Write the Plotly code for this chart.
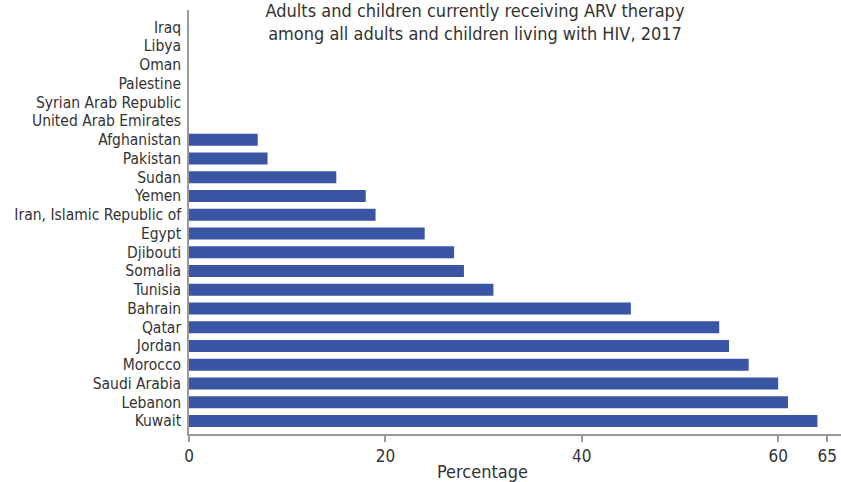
import plotly.graph_objects as go

countries = ["Iraq", "Libya", "Oman", "Palestine", "Syrian Arab Republic",
             "United Arab Emirates", "Afghanistan", "Pakistan", "Sudan", "Yemen",
             "Iran, Islamic Republic of", "Egypt", "Djibouti", "Somalia", "Tunisia",
             "Bahrain", "Qatar", "Jordan", "Morocco", "Saudi Arabia", "Lebanon", "Kuwait"]
values = [None, None, None, None, None, None, 7, 8, 15, 18, 19, 24, 27, 28, 31,
          45, 54, 55, 57, 60, 61, 64]
x_ticks = [0, 20, 40, 60, 65]

FONT = "DejaVu Sans Condensed, Roboto, sans-serif"
TXT = "#333333"

fig = go.Figure(go.Bar(
    x=values, y=countries, orientation="h",
    marker=dict(color="#3955A3", line=dict(width=0)),
    width=0.64,
))

fig.update_layout(
    width=841, height=482, autosize=False,
    margin=dict(l=189, r=0, t=10, b=48),
    plot_bgcolor="white", paper_bgcolor="white",
    showlegend=False,
    font=dict(family=FONT, color=TXT, size=16),
    title=dict(
        text="Adults and children currently receiving ARV therapy<br>among all adults and children living with HIV, 2017",
        x=475 / 841, xanchor="center", xref="container",
        y=1 - 17 / 482, yref="container", yanchor="middle",
        font=dict(family=FONT, size=18, color=TXT),
    ),
    xaxis=dict(
        range=[0, 66.4], tickmode="array", tickvals=x_ticks,
        ticktext=[str(t) for t in x_ticks],
        showgrid=False, zeroline=False, automargin=False,
        showline=True, linecolor="#999999", linewidth=1.5,
        ticks="outside", ticklen=6, tickcolor="#999999", tickwidth=1.5,
        tickfont=dict(family=FONT, size=17, color=TXT),
    ),
    yaxis=dict(
        categoryorder="array", categoryarray=countries,
        tickmode="array", tickvals=countries, ticktext=countries,
        range=[21.69, -0.92], automargin=False,
        showgrid=False, zeroline=False,
        showline=True, linecolor="#999999", linewidth=1.5,
        ticks="", ticklabelstandoff=3,
        tickfont=dict(family=FONT, size=15.5, color=TXT),
    ),
)

fig.add_annotation(
    text="Percentage", x=(482 - 189) / 652, xref="paper", xanchor="center",
    y=-(471 - 434) / 424, yref="paper", yanchor="middle",
    showarrow=False, font=dict(family=FONT, size=18, color=TXT),
)

fig.write_html(
    "out.html",
    config={"responsive": False, "displayModeBar": False},
    post_script="document.body.style.margin='0';document.body.style.padding='0';",
)
